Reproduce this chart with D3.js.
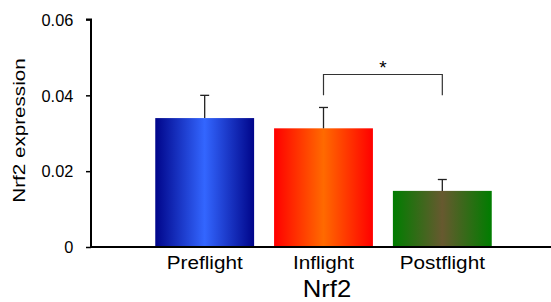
<!DOCTYPE html>
<html>
<head>
<meta charset="utf-8">
<script src="https://cdn.jsdelivr.net/npm/d3@7"></script>
<style>
  body { margin: 0; background: #fff; }
  svg text { font-family: Arial, "Liberation Sans", sans-serif; fill: #000; }
</style>
</head>
<body>
<svg width="551" height="302"></svg>
<script>
// data
var groups = ["Preflight", "Inflight", "Postflight"];
var means = [0.034, 0.0313, 0.0148];
var errors = [0.006, 0.0055, 0.003];
var yTicks = [0, 0.02, 0.04, 0.06];
var edgeColors = ["#00058a", "#ff0000", "#007d00"];
var midColors = ["#3366ff", "#ff6a00", "#67592f"];
var sigPair = ["Inflight", "Postflight"];

var svg = d3.select("svg");

var x = d3.scaleBand()
    .domain(groups)
    .range([135.3, 511.7])
    .paddingInner(0.168)
    .paddingOuter(0.168);

var y = d3.scaleLinear()
    .domain([0, 0.06])
    .range([247, 19.5]);

// the original uses a wide sans face, so stretch Arial a little
function wideText(parent, tx, ty, rot, size, sx, anchor, str) {
  return parent.append("text")
      .attr("transform", "translate(" + tx + "," + ty + ") rotate(" + rot + ") scale(" + sx + ",1)")
      .attr("text-anchor", anchor)
      .style("font-size", size + "px")
      .text(str);
}

// gradients
var defs = svg.append("defs");
groups.forEach(function (g, i) {
  var grad = defs.append("linearGradient")
      .attr("id", "grad" + i)
      .attr("x1", "0%").attr("x2", "100%")
      .attr("y1", "0%").attr("y2", "0%");
  grad.append("stop").attr("offset", "0%").attr("stop-color", edgeColors[i]);
  grad.append("stop").attr("offset", "50%").attr("stop-color", midColors[i]);
  grad.append("stop").attr("offset", "100%").attr("stop-color", edgeColors[i]);
});

// bars
svg.selectAll(".bar")
    .data(groups)
    .enter().append("rect")
    .attr("class", "bar")
    .attr("x", function (d) { return x(d); })
    .attr("width", x.bandwidth())
    .attr("y", function (d, i) { return y(means[i]); })
    .attr("height", function (d, i) { return y(0) - y(means[i]); })
    .attr("fill", function (d, i) { return "url(#grad" + i + ")"; });

// error bars (upper only)
var eb = svg.selectAll(".err")
    .data(groups)
    .enter().append("g")
    .attr("class", "err")
    .attr("stroke", "#222")
    .attr("stroke-width", 1.3);

eb.append("line")
    .attr("x1", function (d) { return x(d) + x.bandwidth() / 2; })
    .attr("x2", function (d) { return x(d) + x.bandwidth() / 2; })
    .attr("y1", function (d, i) { return y(means[i]); })
    .attr("y2", function (d, i) { return y(means[i] + errors[i]); });

eb.append("line")
    .attr("x1", function (d) { return x(d) + x.bandwidth() / 2 - 4.5; })
    .attr("x2", function (d) { return x(d) + x.bandwidth() / 2 + 4.5; })
    .attr("y1", function (d, i) { return y(means[i] + errors[i]); })
    .attr("y2", function (d, i) { return y(means[i] + errors[i]); });

// significance bracket
var bx1 = x(sigPair[0]) + x.bandwidth() / 2,
    bx2 = x(sigPair[1]) + x.bandwidth() / 2,
    byTop = y(0.0455),
    byLeg = y(0.04);
svg.append("path")
    .attr("d", "M" + bx1 + "," + byLeg + "V" + byTop + "H" + bx2 + "V" + byLeg)
    .attr("fill", "none")
    .attr("stroke", "#333")
    .attr("stroke-width", 1.2);
svg.append("text")
    .attr("x", (bx1 + bx2) / 2)
    .attr("y", byTop)
    .attr("text-anchor", "middle")
    .style("font-size", "19px")
    .text("*");

// y axis
var yAxis = svg.append("g")
    .attr("transform", "translate(91,0)")
    .call(d3.axisLeft(y).tickValues(yTicks).tickSize(5)
      .tickFormat(function (d) { return d === 0 ? "0" : d3.format(".2f")(d); }));
yAxis.select(".domain").attr("d", "M-5," + y(0.06) + "H0V" + y(0)).attr("stroke-width", 2);
yAxis.selectAll(".tick line").attr("stroke-width", 1.5);
yAxis.selectAll(".tick text")
    .attr("x", null).attr("dy", null)
    .attr("transform", "translate(-17.7,5.8) scale(1.02,1)")
    .style("font-size", "16px");

// x axis baseline
svg.append("line")
    .attr("x1", 90).attr("x2", 551)
    .attr("y1", y(0)).attr("y2", y(0))
    .attr("stroke", "#000")
    .attr("stroke-width", 2);

// category labels
groups.forEach(function (d) {
  wideText(svg, x(d) + x.bandwidth() / 2, 269, 0, 18.5, 1.12, "middle", d);
});

wideText(svg, 327, 297, 0, 24, 1.07, "middle", "Nrf2");

wideText(svg, 25, 130.5, -90, 16.5, 1.25, "middle", "Nrf2 expression");
</script>
</body>
</html>
